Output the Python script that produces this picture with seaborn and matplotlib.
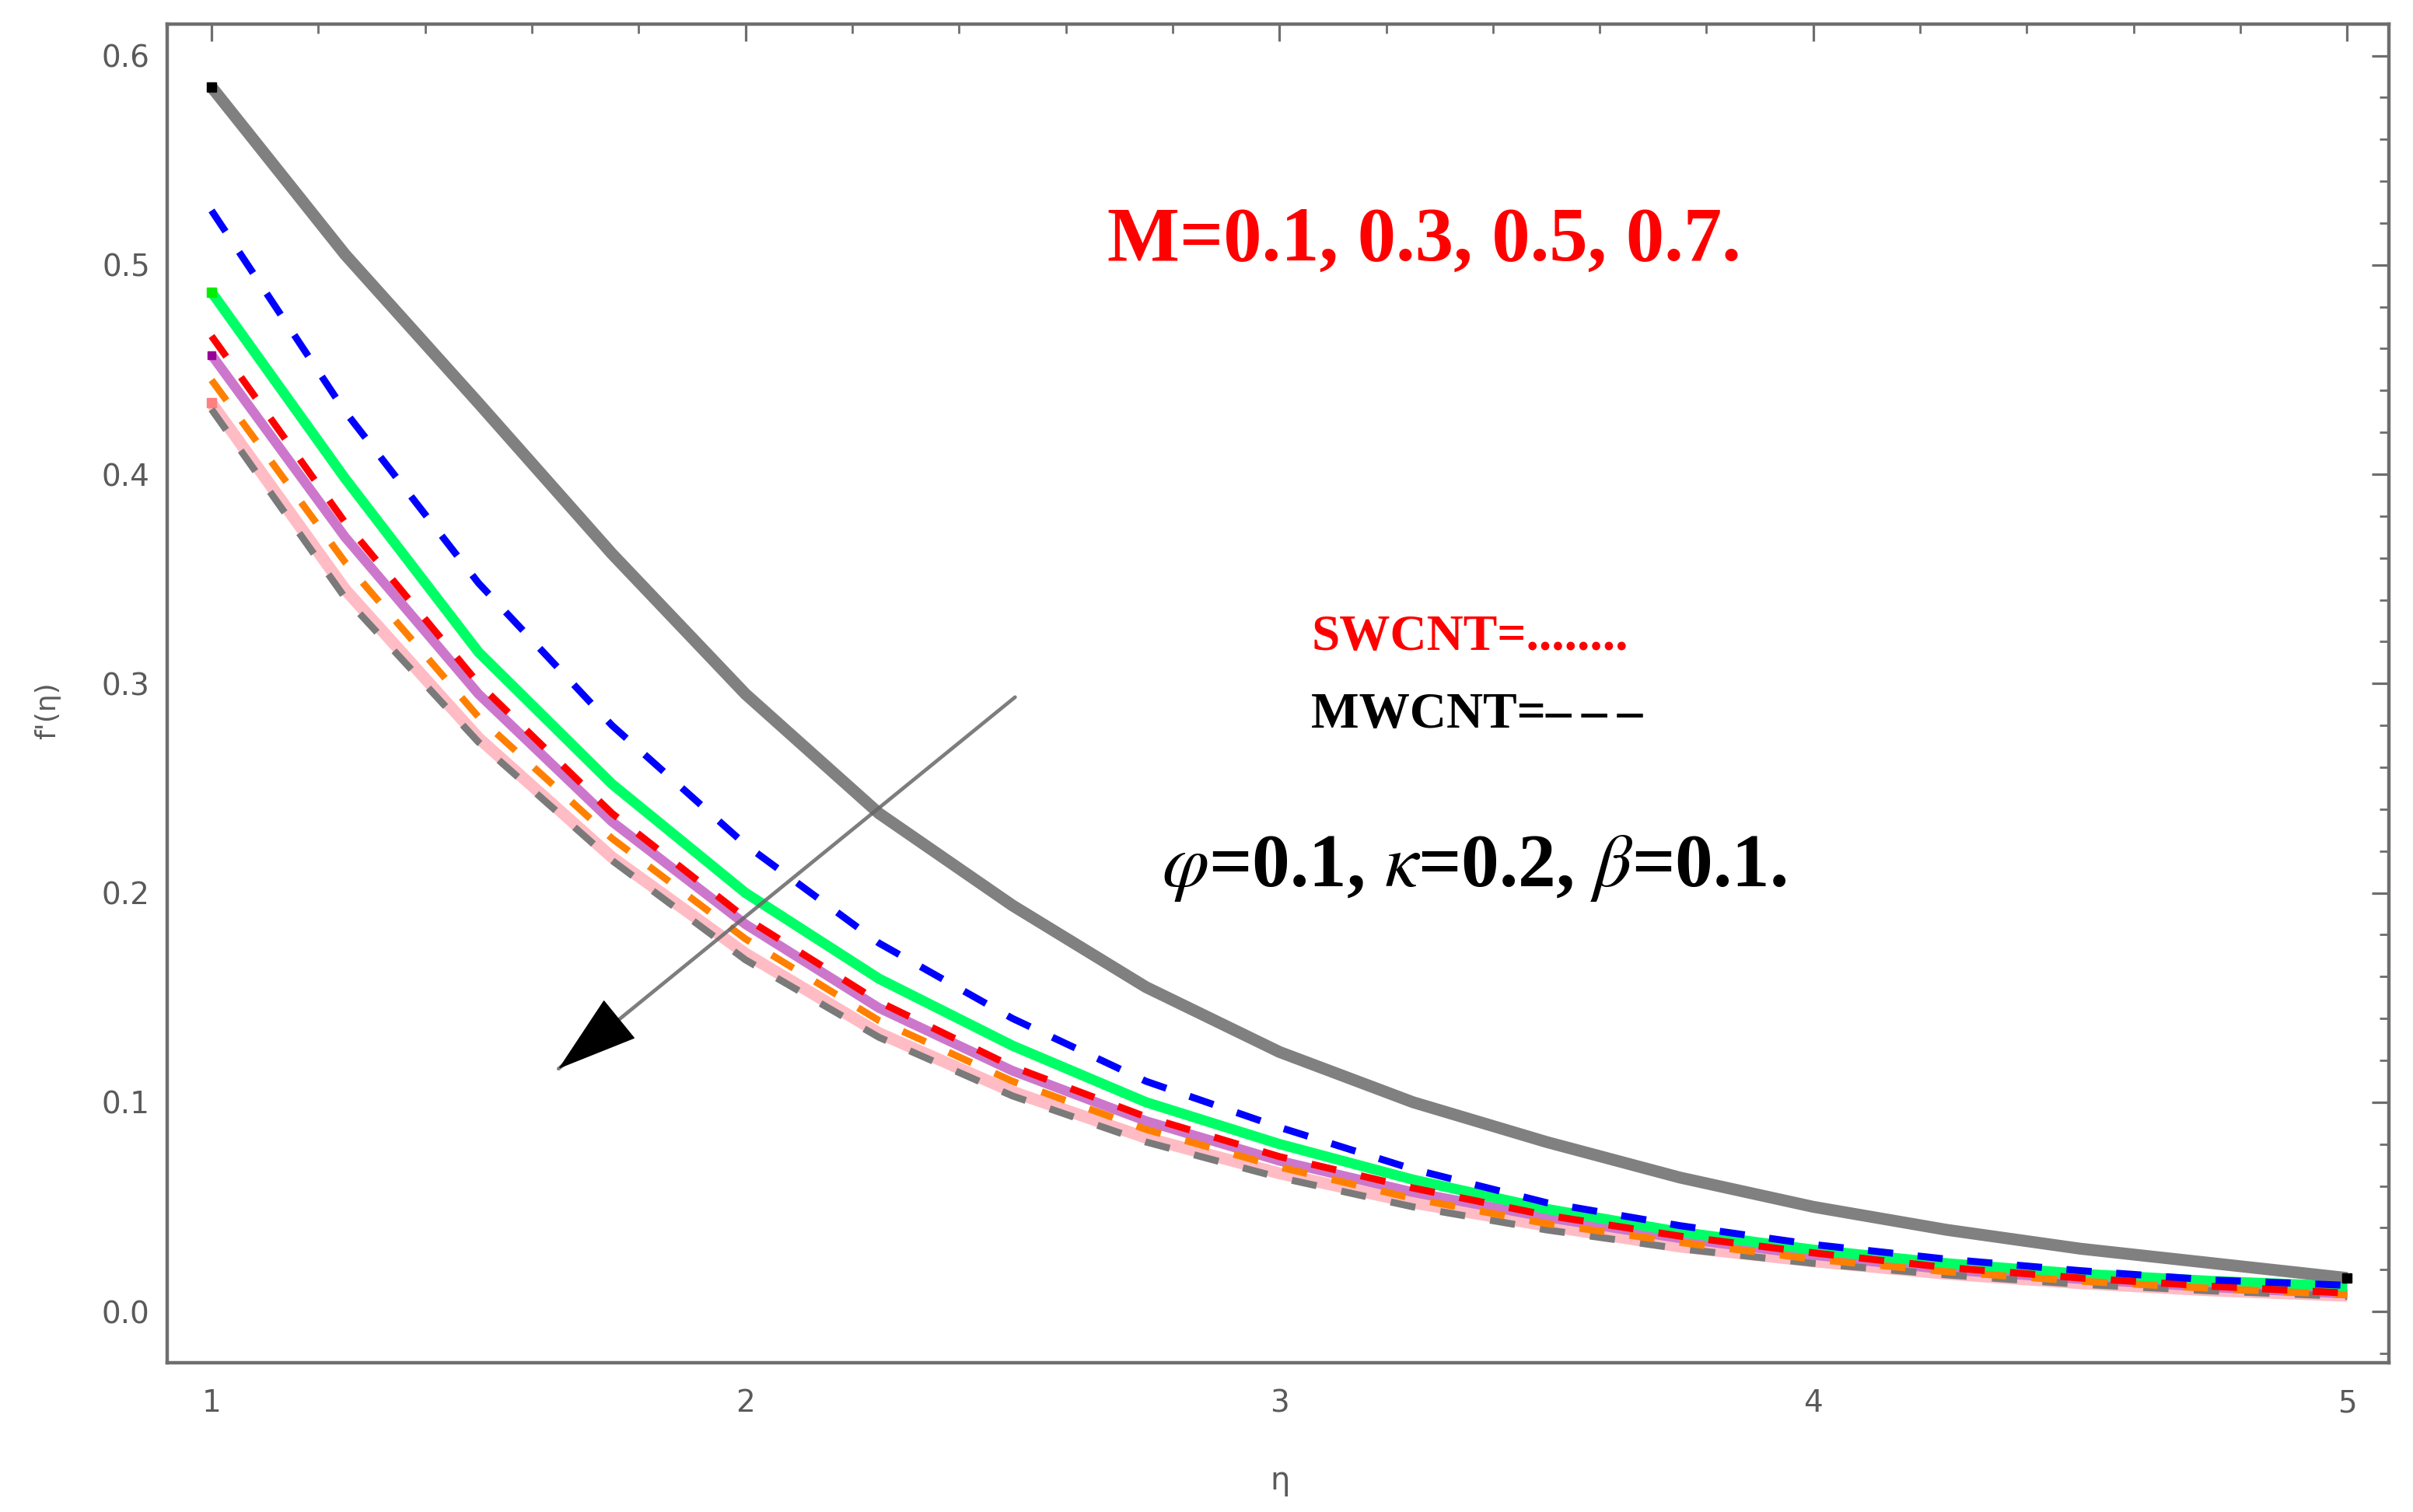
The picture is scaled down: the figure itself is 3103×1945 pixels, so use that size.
import numpy as np
import pandas as pd
import matplotlib
matplotlib.use("Agg")
import matplotlib.pyplot as plt
import seaborn as sns
from matplotlib.ticker import MultipleLocator, FormatStrFormatter

# ---------------- data ----------------
eta = [1.0, 1.25, 1.5, 1.75, 2.0, 2.25, 2.5, 2.75, 3.0, 3.25, 3.5, 3.75, 4.0, 4.25, 4.5, 4.75, 5.0]

gray_solid = [0.585, 0.505, 0.434, 0.362, 0.295, 0.238, 0.194, 0.155, 0.124, 0.100, 0.081, 0.064, 0.050, 0.039, 0.030, 0.023, 0.016]
blue_dash = [0.526, 0.430, 0.348, 0.280, 0.223, 0.176, 0.140, 0.110, 0.088, 0.068, 0.052, 0.041, 0.032, 0.025, 0.0195, 0.015, 0.0125]
green_solid = [0.487, 0.398, 0.315, 0.252, 0.200, 0.159, 0.127, 0.100, 0.080, 0.063, 0.049, 0.038, 0.0295, 0.023, 0.018, 0.0145, 0.0120]
red_dash = [0.466, 0.377, 0.300, 0.238, 0.188, 0.148, 0.117, 0.093, 0.074, 0.059, 0.046, 0.036, 0.028, 0.021, 0.016, 0.012, 0.0088]
orchid_solid = [0.457, 0.370, 0.295, 0.234, 0.185, 0.145, 0.115, 0.091, 0.072, 0.057, 0.045, 0.035, 0.027, 0.020, 0.0155, 0.0115, 0.0085]
orange_dash = [0.445, 0.358, 0.284, 0.226, 0.178, 0.139, 0.110, 0.087, 0.069, 0.054, 0.042, 0.033, 0.025, 0.019, 0.0145, 0.011, 0.008]
pink_solid = [0.434, 0.345, 0.274, 0.217, 0.171, 0.133, 0.105, 0.083, 0.066, 0.052, 0.041, 0.031, 0.024, 0.018, 0.0135, 0.010, 0.0075]
gray_dash = [0.431, 0.341, 0.272, 0.2155, 0.168, 0.131, 0.103, 0.081, 0.064, 0.050, 0.039, 0.030, 0.023, 0.0175, 0.013, 0.0098, 0.0072]

x_ticks = [1, 2, 3, 4, 5]
y_ticks = [0.0, 0.1, 0.2, 0.3, 0.4, 0.5, 0.6]

txt_M = "M=0.1, 0.3, 0.5, 0.7."
txt_sw = "SWCNT=........"
txt_mw = "MWCNT=\u2013\u2009\u2013\u2009\u2013"
txt_par = r"$\varphi$=0.1, $\kappa$=0.2, $\beta$=0.1."
x_label = "\u03b7"
y_label = "f'(\u03b7)"

# ---------------- style ----------------
sns.set_theme(style="white")
plt.rcParams['font.family'] = ['DejaVu Sans']
plt.rcParams['mathtext.fontset'] = 'stix'

fig = plt.figure(figsize=(31.03, 19.45), dpi=100)
ax = fig.add_axes([0.0693, 0.0987, 0.9207, 0.8853])

frame_col = '#6e6e6e'

# thick solid curves (densely dotted in the original)
solids = [
    (pink_solid, '#FFBCC4', 11.0, '#FF8080'),
    (orchid_solid, '#CC77CC', 9.0, '#990099'),
    (green_solid, '#00FF66', 9.5, '#00EE00'),
    (gray_solid, '#808080', 11.0, '#000000'),
]
for vals, col, lw, endc in solids:
    sns.lineplot(x=eta, y=vals, ax=ax, color=col, linewidth=lw,
                 solid_capstyle='butt', solid_joinstyle='round', zorder=2)
    ax.plot([eta[0]], [vals[0]], marker='s', ms=lw * 0.85, color=endc,
            mec=endc, zorder=3, ls='none')
# black end mark at the far end of the gray curve
ax.plot([eta[-1]], [gray_solid[-1]], marker='s', ms=9, color='black', ls='none', zorder=3)

dashed = [
    (gray_dash, '#7A7A7A', 6.5, (3.6, 3.6)),
    (orange_dash, '#FF8000', 6.5, (3.6, 3.6)),
    (red_dash, '#FF0000', 6.5, (3.6, 3.6)),
    (blue_dash, '#0000FF', 6.5, (3.6, 3.5)),
]
for vals, col, lw, dsh in dashed:
    sns.lineplot(x=eta, y=vals, ax=ax, color=col, linewidth=lw,
                 linestyle=(0, dsh), dash_capstyle='butt', zorder=4)

ax.set_xlim(0.917, 5.078)
ax.set_ylim(-0.0245, 0.615)

# ---------------- frame and ticks ----------------
for s in ax.spines.values():
    s.set_color(frame_col)
    s.set_linewidth(3.2)
    s.set_visible(True)

ax.set_xticks(x_ticks)
ax.set_yticks(y_ticks)
ax.xaxis.set_minor_locator(MultipleLocator(0.2))
ax.yaxis.set_minor_locator(MultipleLocator(0.02))
ax.xaxis.set_major_formatter(FormatStrFormatter('%d'))
ax.yaxis.set_major_formatter(FormatStrFormatter('%.1f'))
ax.tick_params(which='both', direction='in', top=True, right=True,
               color=frame_col, labelcolor='#5a5a5a', labelsize=28)
ax.tick_params(which='major', length=16, width=2.3)
ax.tick_params(which='minor', length=8.5, width=2.0)
ax.tick_params(axis='y', which='major', pad=16)
ax.tick_params(axis='x', which='major', pad=24)
ax.grid(False)

ax.set_xlabel(x_label, fontsize=29, color='#5a5a5a')
ax.set_ylabel(y_label, fontsize=26, color='#5a5a5a')
ax.xaxis.set_label_coords(0.501, -0.088)
ax.xaxis.label.set_va('center')
ax.yaxis.set_label_coords(-0.054, 0.487)
ax.yaxis.label.set_va('center')

# ---------------- annotations ----------------
serif = ['Liberation Serif', 'DejaVu Serif']
ax.text(2.678, 0.502, txt_M, color='#FF0000', fontsize=71, fontweight='bold',
        family=serif, va='baseline', ha='left')
ax.text(3.06, 0.316, txt_sw, color='#FF0000', fontsize=47, fontweight='bold',
        family=serif, va='baseline', ha='left')
ax.text(3.06, 0.279, txt_mw, color='black', fontsize=47, fontweight='bold',
        family=serif, va='baseline', ha='left')
ax.text(2.78, 0.203, txt_par, color='black', fontsize=70, fontweight='bold',
        family=serif, va='baseline', ha='left')

# arrow: thin gray shaft with a black head
tail = (2.505, 0.2935)
tip = (1.65, 0.116)
ax.annotate('', xy=tip, xytext=tail,
            arrowprops=dict(arrowstyle='-', color='#666666', lw=3.4, alpha=0.85,
                            shrinkA=0, shrinkB=0), zorder=6)
neck = (tip[0] + (tail[0] - tip[0]) * 0.11, tip[1] + (tail[1] - tip[1]) * 0.11)
ax.annotate('', xy=tip, xytext=neck,
            arrowprops=dict(arrowstyle='-|>,head_length=3.2,head_width=1.0',
                            color='black', lw=1, shrinkA=0, shrinkB=0,
                            mutation_scale=22), zorder=7)

fig.savefig('out.png', dpi=100, facecolor='white')
